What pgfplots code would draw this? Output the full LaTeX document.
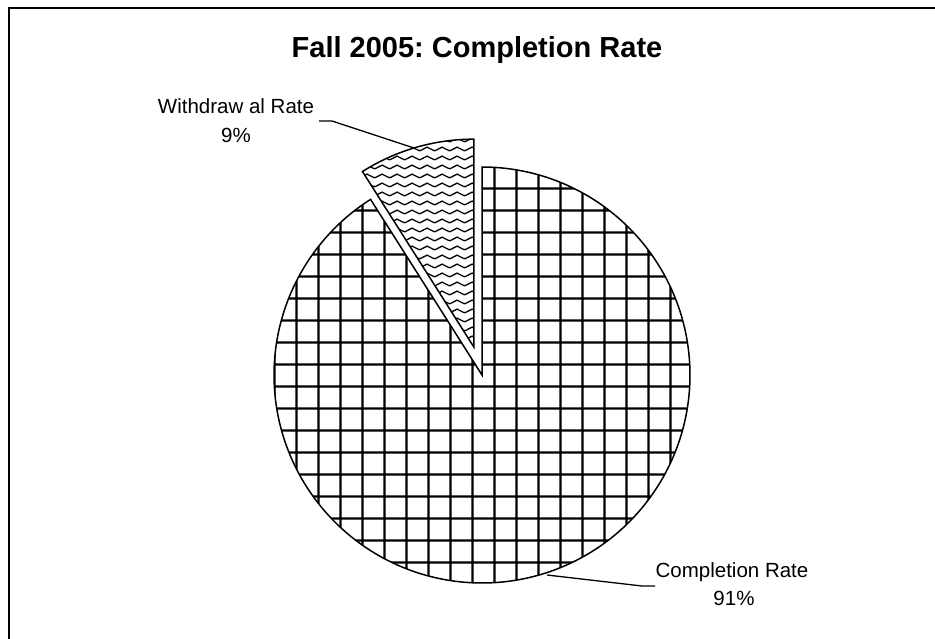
\documentclass[border=0pt]{standalone}
\usepackage{pgfplots}
\pgfplotsset{compat=1.18}
\usepackage{fontspec}
\setmainfont{Liberation Sans}
\usetikzlibrary{patterns}

\pgfdeclarepatternformonly{biggrid}{\pgfpoint{0bp}{0bp}}{\pgfpoint{22bp}{22bp}}{\pgfpoint{22bp}{22bp}}{%
  \pgfsetlinewidth{2.2bp}%
  \pgfpathmoveto{\pgfpoint{11bp}{-2bp}}\pgfpathlineto{\pgfpoint{11bp}{24bp}}%
  \pgfpathmoveto{\pgfpoint{-2bp}{11bp}}\pgfpathlineto{\pgfpoint{24bp}{11bp}}%
  \pgfusepath{stroke}}

\pgfdeclarepatternformonly{zigwave}{\pgfpoint{0bp}{0bp}}{\pgfpoint{15bp}{9bp}}{\pgfpoint{15bp}{9bp}}{%
  \pgfsetlinewidth{1.4bp}%
  \pgfpathmoveto{\pgfpoint{-7.5bp}{6.5bp}}%
  \pgfpathlineto{\pgfpoint{0bp}{2.5bp}}%
  \pgfpathlineto{\pgfpoint{7.5bp}{6.5bp}}%
  \pgfpathlineto{\pgfpoint{15bp}{2.5bp}}%
  \pgfpathlineto{\pgfpoint{22.5bp}{6.5bp}}%
  \pgfusepath{stroke}}

% data (percent)
\def\compl{91}
\def\withd{9}

\begin{document}
\frenchspacing
\begin{tikzpicture}
\pgfmathsetmacro{\angEnd}{90-3.6*\compl}
\pgfmathsetmacro{\angW}{90+3.6*\withd}
\pgfmathsetmacro{\midW}{90+1.8*\withd}
\pgfmathsetmacro{\wx}{482+29*cos(\midW)}
\pgfmathsetmacro{\wy}{375-29*sin(\midW)}
\begin{axis}[width=935bp, height=639bp, scale only axis,
  xmin=0, xmax=935, ymin=0, ymax=639, y dir=reverse,
  hide axis, clip=false]
% Completion slice
\addplot[draw=black, line width=1.5bp, pattern=biggrid, mark=none,
  domain=\angEnd:90, samples=200, variable=\t]
  ({482+208*cos(\t)},{375-208*sin(\t)}) -- (axis cs:482,375) -- cycle;
% Withdrawal slice (exploded)
\addplot[draw=black, line width=1.5bp, pattern=zigwave, mark=none,
  domain=90:\angW, samples=40, variable=\t]
  ({\wx+208*cos(\t)},{\wy-208*sin(\t)}) -- (axis cs:\wx,\wy) -- cycle;
% leader lines
\addplot[black, line width=1.3bp, mark=none] coordinates {(319,121) (332,121) (414,148)};
\addplot[black, line width=1.3bp, mark=none] coordinates {(547,575) (642,586) (655,586)};
% frame (top and left edges)
\addplot[black, line width=2.5bp, mark=none] coordinates {(8.8,639) (8.8,8) (935,8)};
% texts
\node[anchor=base, font=\fontsize{29bp}{34bp}\selectfont\bfseries] at (axis cs:477,58) {Fall 2005: Completion Rate};
\node[anchor=base, font=\fontsize{20.5bp}{24bp}\selectfont] at (axis cs:236,113) {Withdraw al Rate};
\node[anchor=base, font=\fontsize{20.5bp}{24bp}\selectfont] at (axis cs:236,142) {9\%};
\node[anchor=base, font=\fontsize{20.5bp}{24bp}\selectfont] at (axis cs:732,577) {Completion Rate};
\node[anchor=base, font=\fontsize{20.5bp}{24bp}\selectfont] at (axis cs:734,605) {91\%};
\end{axis}
\pgfresetboundingbox
\path (0,0) rectangle (935bp,639bp);
\end{tikzpicture}
\end{document}
